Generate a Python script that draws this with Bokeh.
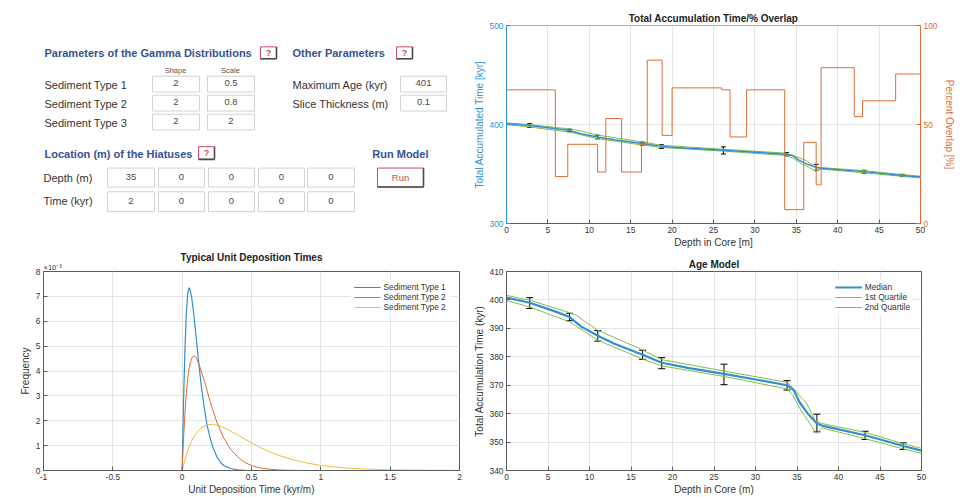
import math
from bokeh.plotting import figure
from bokeh.models import (Range1d, LinearAxis, Whisker, TeeHead, ColumnDataSource,
                          Span, FixedTicker, CustomJSTickFormatter, Title)
from bokeh.layouts import row, column
from bokeh.embed import file_html
from bokeh.resources import INLINE
from bokeh.core.properties import value

FONT = "Liberation Sans"
BLUE = "#2f8fd3"
ORANGE = "#de6a35"
YELLOW = "#efbb3c"
GREEN = "#86bb45"
AXC = "#5c5c5c"
TXT = "#333333"
GRID = "#e4e4e4"
HEAD = "#35528f"
RED = "#d04a58"

# ---------------- data ----------------
sediment_types = ["Sediment Type 1", "Sediment Type 2", "Sediment Type 3"]
gamma_shape = ["2", "2", "2"]
gamma_scale = ["0.5", "0.8", "2"]
max_age = "401"
slice_thickness = "0.1"
hiatus_depth = ["35", "0", "0", "0", "0"]
hiatus_time = ["2", "0", "0", "0", "0"]

# Typical unit deposition times (frequency in units of 1e-3)
dep_time = [-1.0, 0.0, 0.005, 0.01, 0.02, 0.03, 0.04, 0.05, 0.06, 0.07, 0.08, 0.09, 0.10,
            0.12, 0.14, 0.16, 0.18, 0.20, 0.22, 0.25, 0.28, 0.30, 0.35, 0.40, 0.45, 0.50,
            0.55, 0.60, 0.70, 0.80, 0.90, 1.00, 1.10, 1.20, 1.30, 1.40, 1.50, 1.60, 1.80, 2.00]
freq_type1 = [0, 0, 1.4, 2.8, 4.9, 6.3, 7.1, 7.35, 7.2, 6.9, 6.45, 5.95, 5.4,
              4.3, 3.3, 2.5, 1.8, 1.35, 0.95, 0.55, 0.3, 0.2, 0.08, 0.03, 0.01, 0.0,
              0, 0, 0, 0, 0, 0, 0, 0, 0, 0, 0, 0, 0, 0]
freq_type2 = [0, 0, 0.7, 1.3, 2.3, 3.1, 3.7, 4.1, 4.35, 4.52, 4.6, 4.6, 4.55,
              4.3, 3.95, 3.6, 3.2, 2.8, 2.45, 1.95, 1.55, 1.3, 0.85, 0.55, 0.33, 0.2,
              0.12, 0.07, 0.02, 0.005, 0, 0, 0, 0, 0, 0, 0, 0, 0, 0]
freq_type3 = [0, 0, 0.12, 0.23, 0.43, 0.62, 0.79, 0.95, 1.08, 1.2, 1.31, 1.4, 1.49,
              1.62, 1.72, 1.79, 1.83, 1.85, 1.85, 1.82, 1.77, 1.72, 1.58, 1.43, 1.27, 1.11,
              0.96, 0.83, 0.6, 0.43, 0.3, 0.2, 0.14, 0.095, 0.064, 0.043, 0.028, 0.018, 0.007, 0.003]
dep_labels = ["Sediment Type 1", "Sediment Type 2", "Sediment Type 2"]

# Age model
med_depth = [0, 2.8, 6.0, 7.6, 9.0, 11.0, 13.0, 16.4, 18.7, 22.0, 26.2, 30.0, 33.8, 34.6,
             35.3, 36.3, 37.4, 38.0, 43.2, 47.8, 50]
med_age = [400.8, 399.0, 395.8, 394.0, 390.6, 387.4, 384.6, 380.7, 377.9, 376.0, 374.0, 372.0,
           370.0, 368.3, 364.0, 360.0, 356.5, 355.8, 352.4, 348.6, 347.0]
q1_depth = [0, 2.8, 7.6, 8.4, 11.0, 16.4, 18.7, 26.2, 33.8, 34.7, 35.3, 36.2, 37.2, 38.0,
            43.2, 47.8, 50]
q1_age = [401.6, 399.9, 395.5, 394.6, 389.3, 382.4, 379.0, 375.0, 371.0, 368.6, 366.3, 363.5,
          357.5, 356.5, 353.4, 349.4, 347.8]
q2_depth = [0, 2.8, 7.6, 11.0, 16.4, 18.7, 26.2, 33.8, 34.5, 35.5, 36.5, 37.3, 38.0, 43.2,
            47.8, 50]
q2_age = [399.8, 397.5, 392.3, 385.8, 379.2, 376.8, 373.1, 368.7, 366.4, 361.0, 356.8, 353.0,
          355.0, 351.2, 347.6, 346.0]
err_depth = [2.8, 7.6, 11.0, 16.4, 18.7, 26.2, 33.8, 37.4, 43.2, 47.8]
err_upper = [400.8, 395.3, 389.2, 382.3, 379.7, 377.4, 371.6, 359.8, 353.8, 349.7]
err_lower = [397.0, 392.7, 385.5, 379.1, 375.8, 370.2, 368.3, 353.6, 350.9, 347.4]

# Percent overlap (step)
ovl_depth = [0, 5.9, 7.4, 11.0, 12.0, 13.9, 16.3, 17.0, 18.8, 20.0, 26.0, 27.0, 29.0, 33.6,
             35.9, 37.4, 38.0, 42.0, 43.0, 47.0, 50]
ovl_pct = [67.5, 23.7, 40, 26, 53, 26, 40, 82.5, 44.5, 68.5, 67.5, 43.7, 67.5, 7, 41, 19.5,
           78.7, 54, 62, 75.5, 75.5]

depth_ticks = [0, 5, 10, 15, 20, 25, 30, 35, 40, 45, 50]

fmt_code = "return String(+tick.toFixed(3));"


def style_axis(ax, color=AXC, label_color=TXT, bottom=False):
    ax.axis_line_color = color
    ax.major_tick_line_color = color
    ax.major_tick_in = 4
    ax.major_tick_out = 0
    ax.minor_tick_line_color = None
    ax.major_label_text_font = FONT
    ax.major_label_text_font_size = "8.4px"
    ax.major_label_text_color = label_color
    ax.axis_label_text_font = FONT
    ax.axis_label_text_font_size = "10px"
    ax.axis_label_text_font_style = "normal"
    ax.axis_label_text_color = label_color
    ax.major_label_standoff = 3
    ax.axis_label_standoff = 1 if bottom else 2
    ax.formatter = CustomJSTickFormatter(code=fmt_code)


def style_title(p, standoff=4):
    p.title.text_font = FONT
    p.title.text_font_size = "10px"
    p.title.text_font_style = "bold"
    p.title.text_color = "#222222"
    p.title.align = "center"
    try:
        p.title.standoff = standoff
    except Exception:
        pass


def style_legend(p):
    lg = p.legend[0]
    lg.location = "top_right"
    lg.label_text_font = FONT
    lg.label_text_font_size = "8.3px"
    lg.label_text_color = TXT
    lg.glyph_height = 10
    lg.glyph_width = 27
    lg.label_height = 10
    lg.label_standoff = 3
    lg.spacing = 0
    lg.padding = 3
    lg.margin = 8
    lg.border_line_alpha = 0
    lg.background_fill_alpha = 1


# ---------------- form panel ----------------
form = figure(width=470, height=250, x_range=Range1d(0, 470), y_range=Range1d(250, 0),
              x_axis_type=None, y_axis_type=None, toolbar_location=None,
              output_backend="svg", min_border=0)
form.outline_line_color = None


def txt(x, y, s, size="11px", color=TXT, style="normal", align="left"):
    form.text(x=[x], y=[y], text=[s], text_font=value(FONT), text_font_size=size,
              text_color=color, text_font_style=style, text_align=align,
              text_baseline="middle")


def box(x0, y0, x1, y1, val):
    form.quad(left=[x0], right=[x1], top=[y0], bottom=[y1], fill_color="white",
              line_color="#d2d2d2", line_width=1)
    txt((x0 + x1) / 2, (y0 + y1) / 2 - 1, val, size="9.5px", color="#4a4a4a", align="center")


def button(x0, y0, x1, y1, label, size, bold):
    form.quad(left=[x0], right=[x1], top=[y0], bottom=[y1], fill_color="white",
              line_color=RED, line_width=1)
    form.segment(x0=[x1], y0=[y0], x1=[x1], y1=[y1], line_color="#4a4a4a", line_width=1.6)
    form.segment(x0=[x0], y0=[y1], x1=[x1], y1=[y1], line_color="#4a4a4a", line_width=1.6)
    txt((x0 + x1) / 2, (y0 + y1) / 2, label, size=size, color=RED,
        style="bold" if bold else "normal", align="center")


txt(44, 35, "Parameters of the Gamma Distributions", color=HEAD, style="bold")
button(260, 27, 276, 42, "?", "9px", True)
txt(292, 35, "Other Parameters", color=HEAD, style="bold")
button(396, 27, 412, 42, "?", "9px", True)
txt(175, 57, "Shape", size="7.5px", color="#555555", align="center")
txt(230, 57, "Scale", size="7.5px", color="#555555", align="center")
rows_y = [(64, 84), (88, 108), (112, 132)]
for i, (y0, y1) in enumerate(rows_y):
    txt(44, (y0 + y1) / 2 + 1, sediment_types[i])
    box(152, y0, 199, y1, gamma_shape[i])
    box(207, y0, 254, y1, gamma_scale[i])
txt(292, 75, "Maximum Age (kyr)")
box(400, 64, 446, 84, max_age)
txt(292, 99, "Slice Thickness (m)")
box(400, 88, 446, 108, slice_thickness)

txt(44, 162, "Location (m) of the Hiatuses", color=HEAD, style="bold")
button(198, 153, 214, 169, "?", "9px", True)
txt(428, 162, "Run Model", color=HEAD, style="bold", align="right")
txt(43, 193, "Depth (m)")
txt(43, 222, "Time (kyr)")
col_x = [(107, 154), (158, 204), (208, 254), (258, 304), (307, 354)]
for j, (x0, x1) in enumerate(col_x):
    box(x0, 180, x1, 204, hiatus_depth[j])
    box(x0, 210, x1, 235, hiatus_time[j])
button(377, 180, 423, 204, "Run", "9.5px", False)

# ---------------- top right: accumulation / overlap ----------------
tr = figure(width=493, height=250, x_range=Range1d(0, 50), y_range=Range1d(300, 500),
            toolbar_location=None, output_backend="svg", title="Total Accumulation Time/% Overlap",
            min_border_left=35, min_border_right=43, min_border_top=25, min_border_bottom=26)
tr.extra_y_ranges = {"pct": Range1d(0, 100)}
rax = LinearAxis(y_range_name="pct", axis_label="Percent Overlap [%]")
tr.add_layout(rax, "right")
tr.outline_line_color = None
style_title(tr)
style_axis(tr.xaxis[0], bottom=True)
tr.xaxis[0].axis_label = "Depth in Core [m]"
tr.xaxis[0].ticker = FixedTicker(ticks=depth_ticks)
lax = tr.yaxis[0]
style_axis(lax, color=BLUE, label_color=BLUE)
lax.axis_label = "Total Accumulated Time [kyr]"
lax.ticker = FixedTicker(ticks=[300, 400, 500])
style_axis(rax, color=ORANGE, label_color=ORANGE)
rax.ticker = FixedTicker(ticks=[0, 50, 100])
rax.axis_label_standoff = 4
tr.xgrid.ticker = FixedTicker(ticks=depth_ticks)
tr.ygrid.ticker = FixedTicker(ticks=[300, 400, 500])
tr.xgrid.grid_line_color = GRID
tr.ygrid.grid_line_color = GRID
tr.add_layout(Span(location=500, dimension="width", line_color=AXC, line_width=1))

err_src = ColumnDataSource(dict(depth=err_depth, upper=err_upper, lower=err_lower))
tr.line(q1_depth, q1_age, line_color=GREEN, line_width=1)
tr.line(q2_depth, q2_age, line_color=GREEN, line_width=1)
tr.line(med_depth, med_age, line_color=BLUE, line_width=1.5)
tr.add_layout(Whisker(source=err_src, base="depth", upper="upper", lower="lower",
                      dimension="height", line_color="black", line_width=1,
                      upper_head=TeeHead(size=5, line_color="black", line_width=1),
                      lower_head=TeeHead(size=5, line_color="black", line_width=1)))
tr.step(ovl_depth, ovl_pct, mode="after", y_range_name="pct", line_color=ORANGE, line_width=1)

# ---------------- bottom left: deposition times ----------------
bl = figure(width=470, height=247, x_range=Range1d(-1, 2), y_range=Range1d(0, 8),
            toolbar_location=None, output_backend="svg",
            min_border_left=43, min_border_right=11, min_border_top=21, min_border_bottom=26)
bl.add_layout(Title(text="×10⁻³", align="left", text_font=FONT, text_font_size="7.5px",
                    text_font_style="normal", text_color=TXT, standoff=0), "above")
bl.title.text = "Typical Unit Deposition Times"
style_title(bl, standoff=-4)
style_axis(bl.xaxis[0], bottom=True)
style_axis(bl.yaxis[0])
bl.xaxis[0].axis_label = "Unit Deposition Time (kyr/m)"
bl.yaxis[0].axis_label = "Frequency"
bl_xt = [-1, -0.5, 0, 0.5, 1, 1.5, 2]
bl_yt = [0, 1, 2, 3, 4, 5, 6, 7, 8]
bl.xaxis[0].ticker = FixedTicker(ticks=bl_xt)
bl.yaxis[0].ticker = FixedTicker(ticks=bl_yt)
bl.xgrid.ticker = FixedTicker(ticks=bl_xt)
bl.ygrid.ticker = FixedTicker(ticks=bl_yt)
bl.xgrid.grid_line_color = GRID
bl.ygrid.grid_line_color = GRID
bl.outline_line_color = AXC
bl.line(dep_time, freq_type1, line_color=BLUE, line_width=1.2, legend_label=dep_labels[0])
bl.line(dep_time, freq_type2, line_color=ORANGE, line_width=1, legend_label=dep_labels[1] + " ")
bl.line(dep_time, freq_type3, line_color=YELLOW, line_width=1, legend_label=dep_labels[2])
style_legend(bl)

# ---------------- bottom right: age model ----------------
br = figure(width=493, height=247, x_range=Range1d(0, 50), y_range=Range1d(340, 410),
            toolbar_location=None, output_backend="svg", title="Age Model",
            min_border_left=35, min_border_right=42, min_border_top=21, min_border_bottom=26)
style_title(br)
style_axis(br.xaxis[0], bottom=True)
style_axis(br.yaxis[0])
br.xaxis[0].axis_label = "Depth in Core (m)"
br.yaxis[0].axis_label = "Total Accumulation Time (kyr)"
br_yt = [340, 350, 360, 370, 380, 390, 400, 410]
br.xaxis[0].ticker = FixedTicker(ticks=depth_ticks)
br.yaxis[0].ticker = FixedTicker(ticks=br_yt)
br.xgrid.ticker = FixedTicker(ticks=depth_ticks)
br.ygrid.ticker = FixedTicker(ticks=br_yt)
br.xgrid.grid_line_color = GRID
br.ygrid.grid_line_color = GRID
br.outline_line_color = AXC
br.line(med_depth, med_age, line_color=BLUE, line_width=2.2, legend_label="Median")
br.line(q1_depth, q1_age, line_color=GREEN, line_width=1, legend_label="1st Quartile")
br.line(q2_depth, q2_age, line_color=GREEN, line_width=1, legend_label="2nd Quartile")
br.add_layout(Whisker(source=err_src, base="depth", upper="upper", lower="lower",
                      dimension="height", line_color="black", line_width=1,
                      upper_head=TeeHead(size=7, line_color="black", line_width=1),
                      lower_head=TeeHead(size=7, line_color="black", line_width=1)))
style_legend(br)

layout = column(row(form, tr), row(bl, br))
open("out.html", "w").write(file_html(layout, INLINE))
